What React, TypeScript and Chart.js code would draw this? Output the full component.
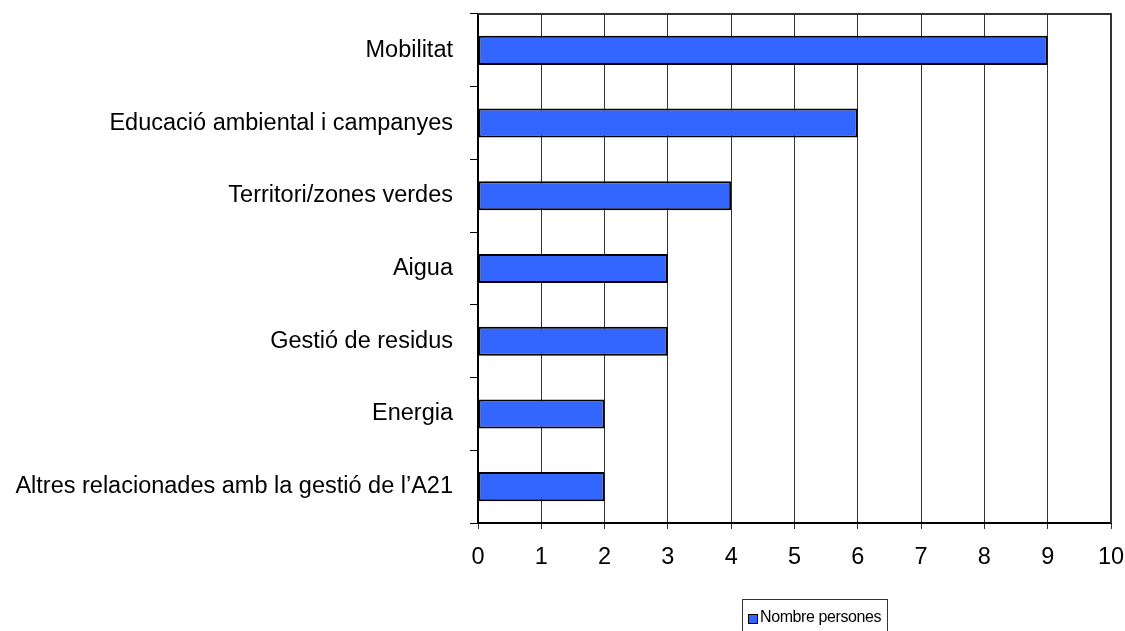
import React, { useEffect, useRef } from "react";
import { Chart, registerables } from "chart.js";

Chart.register(...registerables);

const categories = [
  "Mobilitat",
  "Educació ambiental i campanyes",
  "Territori/zones verdes",
  "Aigua",
  "Gestió de residus",
  "Energia",
  "Altres relacionades amb la gestió de l’A21",
];
const values = [9, 6, 4, 3, 3, 2, 2];
const seriesName = "Nombre persones";
const xMin = 0;
const xMax = 10;

const FONT = "'Liberation Sans', Arial, sans-serif";

const borderPlugin = {
  id: "plotBorder",
  afterDatasetsDraw(chart: any) {
    const { ctx, chartArea } = chart;
    ctx.save();
    ctx.strokeStyle = "#333";
    ctx.lineWidth = 2;
    ctx.beginPath();
    ctx.moveTo(chartArea.left, chartArea.top);
    ctx.lineTo(chartArea.right, chartArea.top);
    ctx.lineTo(chartArea.right, chartArea.bottom);
    ctx.stroke();
    ctx.restore();
  },
};

export default function App() {
  const ref = useRef<HTMLCanvasElement | null>(null);
  useEffect(() => {
    document.body.style.margin = "0";
    const chart = new Chart(ref.current!, {
      type: "bar",
      data: {
        labels: categories,
        datasets: [
          {
            label: seriesName,
            data: values,
            backgroundColor: "#3366FF",
            borderColor: "#000",
            borderWidth: 2,
            borderSkipped: false,
            barPercentage: 0.4,
            categoryPercentage: 1,
          },
        ],
      },
      options: {
        indexAxis: "y",
        responsive: false,
        animation: false,
        layout: { padding: { top: 14, right: 14, left: 0, bottom: 0 } },
        plugins: { legend: { display: false }, tooltip: { enabled: false } },
        scales: {
          x: {
            min: xMin,
            max: xMax,
            ticks: {
              stepSize: 1,
              color: "#000",
              font: { family: FONT, size: 23.5 },
              padding: 14,
            },
            grid: { color: "#333", lineWidth: 1, tickLength: 6, drawTicks: true },
            border: { color: "#000", width: 2 },
            afterFit: (s: any) => {
              s.height = 108;
              s.paddingLeft = 0;
              s.paddingRight = 0;
            },
          },
          y: {
            ticks: {
              color: "#000",
              font: { family: FONT, size: 23.5 },
              padding: 17,
            },
            grid: { offset: true, drawOnChartArea: false, color: "#000", tickLength: 8 },
            border: { color: "#000", width: 2 },
            afterFit: (s: any) => {
              s.width = 478;
              s.paddingTop = 0;
              s.paddingBottom = 0;
            },
          },
        },
      },
      plugins: [borderPlugin],
    });
    return () => chart.destroy();
  }, []);
  return (
    <div style={{ position: "relative", width: 1125, height: 631, overflow: "hidden", background: "#fff" }}>
      <canvas ref={ref} width={1125} height={631} style={{ display: "block" }} />
      <div
        style={{
          position: "absolute",
          left: 742,
          top: 599,
          width: 146,
          height: 40,
          border: "1px solid #333",
          fontFamily: FONT,
          fontSize: 16,
          color: "#000",
          boxSizing: "border-box",
        }}
      >
        <span
          style={{
            position: "absolute",
            left: 5,
            top: 14,
            width: 8,
            height: 8,
            background: "#3366FF",
            border: "1px solid #000",
          }}
        />
        <span style={{ position: "absolute", left: 17, top: 8, letterSpacing: -0.4 }}>{seriesName}</span>
      </div>
    </div>
  );
}
